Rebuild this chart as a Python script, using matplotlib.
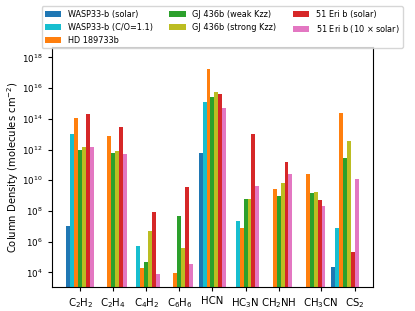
import numpy as np
import matplotlib
matplotlib.use("Agg")
import matplotlib.pyplot as plt

molecules = ["C$_2$H$_2$", "C$_2$H$_4$", "C$_4$H$_2$", "C$_6$H$_6$", "HCN",
             "HC$_3$N", "CH$_2$NH", "CH$_3$CN", "CS$_2$"]
# tick labels of the last two groups sit a bit right of their bars in the original
tick_shift = [0, 0, 0, 0, 0, 0, 0, 0.28, 0.3]

labels = ["WASP33-b (solar)", "WASP33-b (C/O=1.1)", "HD 189733b",
          "GJ 436b (weak Kzz)", "GJ 436b (strong Kzz)",
          "51 Eri b (solar)", "51 Eri b (10 $\\times$ solar)"]
colors = ["tab:blue", "tab:cyan", "tab:orange", "tab:green", "tab:olive",
          "tab:red", "tab:pink"]

# column densities, nan = not present
wasp33_solar = [1.1e7, np.nan, np.nan, np.nan, 6.1e11, np.nan, np.nan, np.nan, 2.2e4]
wasp33_co = [1.1e13, np.nan, 5e5, np.nan, 1.3e15, 2.1e7, np.nan, np.nan, 7.6e6]
hd189733b = [1.1e14, 8e12, 1.8e4, 9e3, 1.8e17, 8.3e6, 2.6e9, 2.4e10, 2.5e14]
gj436b_weak = [1e12, 6e11, 4.9e4, 4.5e7, 2.5e15, 5.7e8, 8.9e8, 1.4e9, 2.6e11]
gj436b_strong = [1.5e12, 8.3e11, 5.3e6, 3.8e5, 5.6e15, 5.7e8, 6.3e9, 1.6e9, 3.7e12]
eri51_solar = [2.1e14, 3e13, 8.2e7, 3.5e9, 4.2e15, 1.05e13, 1.45e11, 4.9e8, 2e5]
eri51_10x = [1.5e12, 5.4e11, 7.4e3, 3.5e4, 5.4e14, 4e9, 2.4e10, 2.2e8, 1.15e10]

series = [wasp33_solar, wasp33_co, hd189733b, gj436b_weak, gj436b_strong,
          eri51_solar, eri51_10x]

fig = plt.figure(figsize=(4.15, 3.11), dpi=100)
ax = fig.add_axes([0.125, 0.077, 0.774, 0.773])

x = np.arange(len(molecules))
w = 0.12
for j, (vals, lab, c) in enumerate(zip(series, labels, colors)):
    ax.bar(x + (j - 3) * w, vals, width=w, color=c, label=lab, log=True)

ax.set_yscale("log")
ax.set_ylim(1.1e3, 5e18)
ax.set_xlim(-0.86, 8.86)
ax.set_yticks([1e4, 1e6, 1e8, 1e10, 1e12, 1e14, 1e16, 1e18])
ax.minorticks_off()
ax.tick_params(axis="y", labelsize=6.3, length=3)
ax.tick_params(axis="x", length=3)
ax.set_xticks(x + np.array(tick_shift))
ax.set_xticklabels(molecules, fontsize=7.3)
ax.set_ylabel("Column Density (molecules cm$^{-2}$)", fontsize=7.2, labelpad=1)

fig.legend(loc="upper center", bbox_to_anchor=(0.535, 0.993), ncol=3,
           fontsize=5.9)

plt.savefig("out.png")
